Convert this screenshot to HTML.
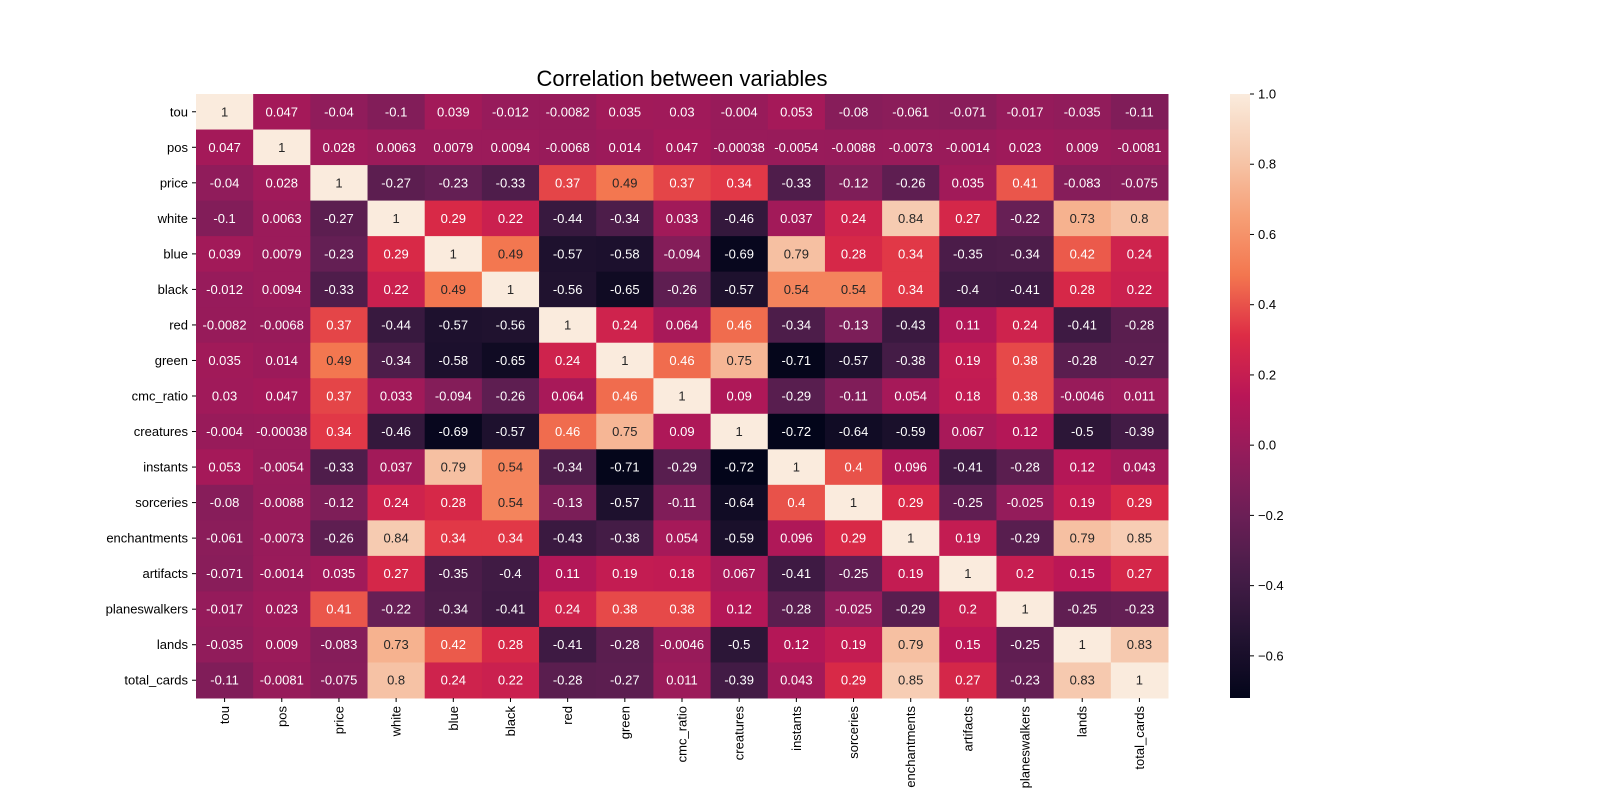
<!DOCTYPE html>
<html><head><meta charset="utf-8"><style>
html,body{margin:0;padding:0;background:#fff;}
svg{display:block;font-family:"Liberation Sans","DejaVu Sans",sans-serif;}
</style></head><body>
<svg id="chart" width="1600" height="800" xmlns="http://www.w3.org/2000/svg">
<rect width="1600" height="800" fill="#fff"/>
<text x="682" y="86" text-anchor="middle" font-size="22" fill="#000">Correlation between variables</text>
<defs><linearGradient id="cbgrad" x1="0" y1="1" x2="0" y2="0"></linearGradient></defs>
<g id="cells"></g>
<g id="ylabels"></g>
<g id="xlabels"></g>
<g id="colorbar"></g>
</svg>
<script>
const variables = ["tou","pos","price","white","blue","black","red","green","cmc_ratio","creatures","instants","sorceries","enchantments","artifacts","planeswalkers","lands","total_cards"];
const matrix = [
[1,0.047,-0.04,-0.1,0.039,-0.012,-0.0082,0.035,0.03,-0.004,0.053,-0.08,-0.061,-0.071,-0.017,-0.035,-0.11],
[0.047,1,0.028,0.0063,0.0079,0.0094,-0.0068,0.014,0.047,-0.00038,-0.0054,-0.0088,-0.0073,-0.0014,0.023,0.009,-0.0081],
[-0.04,0.028,1,-0.27,-0.23,-0.33,0.37,0.49,0.37,0.34,-0.33,-0.12,-0.26,0.035,0.41,-0.083,-0.075],
[-0.1,0.0063,-0.27,1,0.29,0.22,-0.44,-0.34,0.033,-0.46,0.037,0.24,0.84,0.27,-0.22,0.73,0.8],
[0.039,0.0079,-0.23,0.29,1,0.49,-0.57,-0.58,-0.094,-0.69,0.79,0.28,0.34,-0.35,-0.34,0.42,0.24],
[-0.012,0.0094,-0.33,0.22,0.49,1,-0.56,-0.65,-0.26,-0.57,0.54,0.54,0.34,-0.4,-0.41,0.28,0.22],
[-0.0082,-0.0068,0.37,-0.44,-0.57,-0.56,1,0.24,0.064,0.46,-0.34,-0.13,-0.43,0.11,0.24,-0.41,-0.28],
[0.035,0.014,0.49,-0.34,-0.58,-0.65,0.24,1,0.46,0.75,-0.71,-0.57,-0.38,0.19,0.38,-0.28,-0.27],
[0.03,0.047,0.37,0.033,-0.094,-0.26,0.064,0.46,1,0.09,-0.29,-0.11,0.054,0.18,0.38,-0.0046,0.011],
[-0.004,-0.00038,0.34,-0.46,-0.69,-0.57,0.46,0.75,0.09,1,-0.72,-0.64,-0.59,0.067,0.12,-0.5,-0.39],
[0.053,-0.0054,-0.33,0.037,0.79,0.54,-0.34,-0.71,-0.29,-0.72,1,0.4,0.096,-0.41,-0.28,0.12,0.043],
[-0.08,-0.0088,-0.12,0.24,0.28,0.54,-0.13,-0.57,-0.11,-0.64,0.4,1,0.29,-0.25,-0.025,0.19,0.29],
[-0.061,-0.0073,-0.26,0.84,0.34,0.34,-0.43,-0.38,0.054,-0.59,0.096,0.29,1,0.19,-0.29,0.79,0.85],
[-0.071,-0.0014,0.035,0.27,-0.35,-0.4,0.11,0.19,0.18,0.067,-0.41,-0.25,0.19,1,0.2,0.15,0.27],
[-0.017,0.023,0.41,-0.22,-0.34,-0.41,0.24,0.38,0.38,0.12,-0.28,-0.025,-0.29,0.2,1,-0.25,-0.23],
[-0.035,0.009,-0.083,0.73,0.42,0.28,-0.41,-0.28,-0.0046,-0.5,0.12,0.19,0.79,0.15,-0.25,1,0.83],
[-0.11,-0.0081,-0.075,0.8,0.24,0.22,-0.28,-0.27,0.011,-0.39,0.043,0.29,0.85,0.27,-0.23,0.83,1]
];
const colorbarTicks = [1.0,0.8,0.6,0.4,0.2,0.0,-0.2,-0.4,-0.6];
const vmin = -0.72, vmax = 1.0;

const NS="http://www.w3.org/2000/svg";
const X0=196,X1=1168,Y0=94,Y1=698;
const n=variables.length, cw=(X1-X0)/n, ch=(Y1-Y0)/n;
const stops=[[0,"#03051A"],[0.1,"#221331"],[0.2,"#451C47"],[0.3,"#6A1F56"],[0.4,"#921C5B"],[0.5,"#B91657"],[0.6,"#DD2C45"],[0.7,"#F3764F"],[0.8,"#F6A077"],[0.9,"#F6C9AE"],[1,"#FAEBDD"]];
function hex(h){return [1,3,5].map(i=>parseInt(h.substr(i,2),16));}
function cmapRGB(t){t=Math.max(0,Math.min(1,t));for(let i=1;i<stops.length;i++){if(t<=stops[i][0]){const a=stops[i-1],b=stops[i];const f=(t-a[0])/(b[0]-a[0]);const ca=hex(a[1]),cb=hex(b[1]);return ca.map((v,k)=>Math.round(v+(cb[k]-v)*f));}}return hex(stops[stops.length-1][1]);}
function norm(v){return (v-vmin)/(vmax-vmin);}
function xs(j){return X0+j*cw;} function ys(i){return Y0+i*ch;}
function fmt(v){return String(Number(v.toPrecision(2)));}
function mk(tag,attrs,parent){const e=document.createElementNS(NS,tag);for(const k in attrs)e.setAttribute(k,attrs[k]);parent.appendChild(e);return e;}
const cells=document.getElementById('cells');
matrix.forEach((row,i)=>row.forEach((v,j)=>{
 const c=cmapRGB(norm(v));
 const r=mk('rect',{x:xs(j),y:ys(i),width:cw+0.5,height:ch+0.5,fill:`rgb(${c})`},cells);
 
 
 const t=mk('text',{x:xs(j)+cw/2,y:ys(i)+ch/2+4.5,'text-anchor':'middle','font-size':13,fill:norm(v)>0.695?'#262626':'#fff'},cells);
 
 
 t.textContent=fmt(v);
}));
const yl=document.getElementById('ylabels'), xl=document.getElementById('xlabels');
variables.forEach((name,i)=>{
 mk('line',{x1:X0-4,x2:X0,y1:ys(i)+ch/2,y2:ys(i)+ch/2,stroke:'#000','stroke-width':1},yl);
 const t=mk('text',{x:X0-8,y:ys(i)+ch/2+4.5,'text-anchor':'end','font-size':13,fill:'#000'},yl);
 
 
 t.textContent=name;
 const cx=xs(i)+cw/2;
 mk('line',{x1:cx,x2:cx,y1:Y1,y2:Y1+4,stroke:'#000','stroke-width':1},xl);
 const u=mk('text',{x:0,y:0,'text-anchor':'end','font-size':13,fill:'#000',transform:`translate(${cx+4.5},${Y1+8}) rotate(-90)`},xl);
 
 
 u.textContent=name;
});
const grad=document.getElementById('cbgrad');
for(let k=0;k<=40;k++){const t=k/40;const c=cmapRGB(t);mk('stop',{offset:t,'stop-color':`rgb(${c})`},grad);}
const cb=document.getElementById('colorbar');
const CBX=1230,CBW=20;
const bar=mk('rect',{x:CBX,y:Y0,width:CBW,height:Y1-Y0,fill:'url(#cbgrad)'},cb);


function cbY(v){return Y1-norm(v)*(Y1-Y0);}
colorbarTicks.forEach(v=>{
 const y=cbY(v);
 mk('line',{x1:CBX+CBW,x2:CBX+CBW+4,y1:y,y2:y,stroke:'#000','stroke-width':1},cb);
 const t=mk('text',{x:CBX+CBW+8,y:y+4.5,'font-size':13,fill:'#000'},cb);
 
 
 t.textContent=(v<0?'\u2212':'')+Math.abs(v).toFixed(1);
});
</script>
</body></html>
